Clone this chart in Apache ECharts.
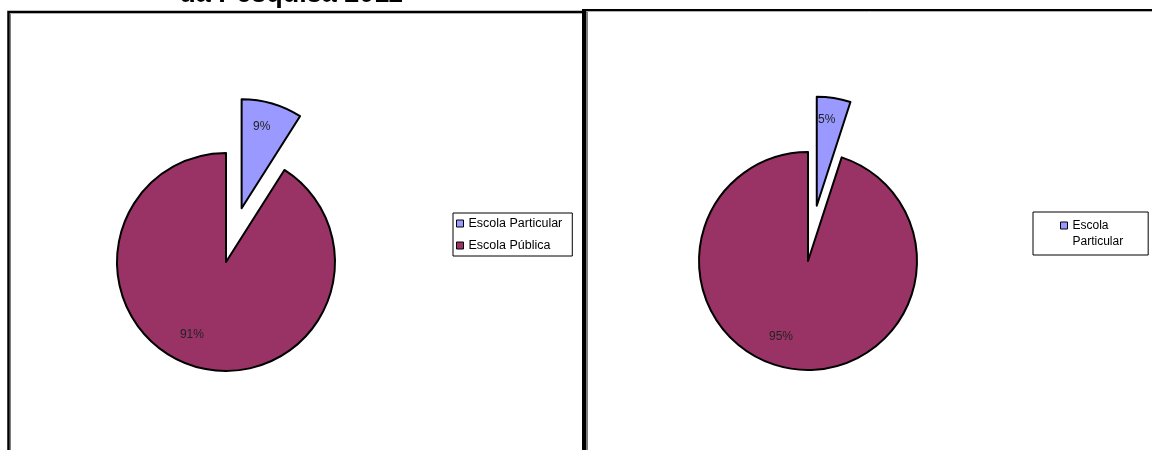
<!DOCTYPE html>
<html>
<head>
<meta charset="utf-8">
<script src="https://cdn.jsdelivr.net/npm/echarts@6/dist/echarts.min.js"></script>
<style>
  html, body { margin: 0; padding: 0; background: #fff; }
  #chart { width: 1152px; height: 450px; }
</style>
</head>
<body>
<div id="chart"></div>
<script>
// Escola Particular / Escola Pública shares (%)
const categories = ['Escola Particular', 'Escola Pública'];
const sharesLeft = [9, 91];
const sharesRight = [5, 95];
const colors = ['#9999FF', '#993366'];
const titleText = 'da Pesquisa 2011';

// label nudges (px) so percentages sit where the spreadsheet put them
const leftLabelShift = [[4, -26], [-18, 17]];
const rightLabelShift = [[1, -29], [-18, 19]];

function pieData(values) {
  return values.map((v, i) => ({
    name: categories[i],
    value: v,
    selected: i === 0,
    itemStyle: { color: colors[i] }
  }));
}

function pieSeries(values, center, shifts) {
  return {
    type: 'pie',
    center: center,
    radius: 109,
    startAngle: 90,
    clockwise: true,
    selectedMode: 'single',
    selectedOffset: 56,
    avoidLabelOverlap: false,
    silent: true,
    data: pieData(values),
    itemStyle: { borderColor: '#000', borderWidth: 2 },
    label: {
      show: true,
      position: 'inside',
      formatter: '{c}%',
      color: '#222',
      fontFamily: 'Liberation Sans, Arial, sans-serif',
      fontSize: 12
    },
    labelLine: { show: false },
    labelLayout: function (p) {
      const s = shifts[p.dataIndex];
      return { dx: s[0], dy: s[1] };
    },
    emphasis: { disabled: true }
  };
}

const legendText = {
  color: '#000',
  fontFamily: 'Liberation Sans, Arial, sans-serif',
  fontSize: 12.5
};

const chart = echarts.init(document.getElementById('chart'), null, { renderer: 'canvas' });
chart.setOption({
  backgroundColor: '#fff',
  animation: false,
  legend: [
    {
      orient: 'vertical',
      left: 453,
      top: 213,
      data: categories,
      selectedMode: false,
      icon: 'rect',
      itemWidth: 7,
      itemHeight: 7,
      itemGap: 9,
      padding: [4, 10, 4, 3],
      borderColor: '#000',
      borderWidth: 1,
      textStyle: legendText,
      itemStyle: { borderColor: '#000', borderWidth: 1 }
    },
    {
      orient: 'vertical',
      left: 1033,
      top: 212,
      data: [categories[0]],
      selectedMode: false,
      icon: 'path://M0,0L7,0L7,7L0,7ZM0,24',
      itemWidth: 7,
      itemHeight: 24,
      padding: [6, 25, 5, 27],
      borderColor: '#000',
      borderWidth: 1,
      textStyle: Object.assign({}, legendText, { fontSize: 12, lineHeight: 16 }),
      formatter: function (name) { return name.replace(' ', '\n'); },
      itemStyle: { borderColor: '#000', borderWidth: 1 }
    }
  ],
  series: [
    pieSeries(sharesLeft, [226, 262], leftLabelShift),
    pieSeries(sharesRight, [808, 261], rightLabelShift)
  ],
  graphic: [
    // heading clipped by the top of the page
    {
      type: 'text',
      silent: true,
      style: {
        text: titleText,
        x: 291,
        y: 8,
        align: 'center',
        verticalAlign: 'bottom',
        font: 'bold 27px "Liberation Sans", Arial, sans-serif',
        fill: '#000'
      }
    },
    // left panel frame
    { type: 'rect', silent: true, shape: { x: 8.5, y: 12, width: 575, height: 500 },
      style: { fill: null, stroke: '#000', lineWidth: 2.5 } },
    { type: 'line', silent: true, shape: { x1: 10.5, y1: 13.5, x2: 10.5, y2: 450 },
      style: { stroke: '#808080', lineWidth: 1 } },
    { type: 'line', silent: true, shape: { x1: 10, y1: 13.5, x2: 582, y2: 13.5 },
      style: { stroke: '#b0b0b0', lineWidth: 1 } },
    // divider and right panel frame
    { type: 'rect', silent: true, shape: { x: 582, y: 9, width: 4.5, height: 441 },
      style: { fill: '#000' } },
    { type: 'rect', silent: true, shape: { x: 582, y: 9, width: 570, height: 2 },
      style: { fill: '#000' } },
    { type: 'line', silent: true, shape: { x1: 587.5, y1: 11, x2: 587.5, y2: 450 },
      style: { stroke: '#808080', lineWidth: 1 } },
    { type: 'line', silent: true, shape: { x1: 587, y1: 11.5, x2: 1152, y2: 11.5 },
      style: { stroke: '#b0b0b0', lineWidth: 1 } }
  ]
});
</script>
</body>
</html>
